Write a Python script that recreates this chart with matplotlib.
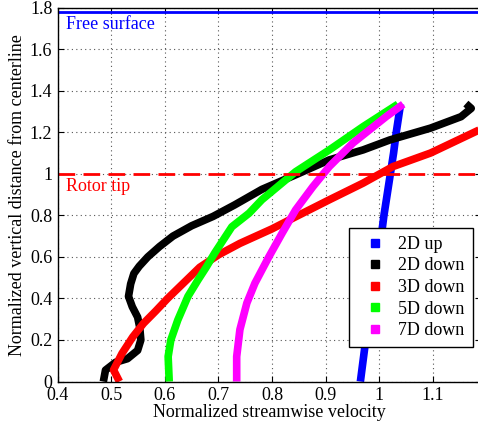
import numpy as np
import matplotlib
matplotlib.use("Agg")
import matplotlib.pyplot as plt
from matplotlib.lines import Line2D

plt.rcParams['font.family'] = ['Liberation Serif', 'DejaVu Serif']
plt.rcParams['font.size'] = 13

# profiles (velocity, height)
up2_u = [0.965, 0.970, 0.975, 0.982, 0.988, 0.993, 0.998, 1.004, 1.009, 1.015, 1.021, 1.027, 1.032, 1.040]
up2_y = [0.0, 0.1, 0.2, 0.3, 0.4, 0.5, 0.6, 0.7, 0.8, 0.9, 1.0, 1.1, 1.2, 1.335]

down2_u = [0.485, 0.489, 0.508, 0.530, 0.549, 0.555, 0.553, 0.549, 0.539, 0.532, 0.536, 0.542,
           0.552, 0.568, 0.590, 0.615, 0.650, 0.690, 0.730, 0.781, 0.844, 0.907, 0.970, 1.020,
           1.096, 1.153, 1.172, 1.162]
down2_y = [0.0, 0.055, 0.093, 0.110, 0.150, 0.200, 0.260, 0.310, 0.360, 0.410, 0.470, 0.520,
           0.555, 0.600, 0.650, 0.700, 0.750, 0.795, 0.850, 0.925, 0.995, 1.067, 1.115, 1.163,
           1.220, 1.275, 1.315, 1.338]

down3_u = [0.515, 0.504, 0.520, 0.540, 0.560, 0.583, 0.605, 0.633, 0.665, 0.700, 0.740, 0.800,
           0.844, 0.907, 0.970, 1.026, 1.096, 1.190]
down3_y = [0.0, 0.056, 0.136, 0.215, 0.280, 0.340, 0.400, 0.470, 0.550, 0.610, 0.665, 0.735,
           0.793, 0.875, 0.955, 1.035, 1.100, 1.215]

down5_u = [0.608, 0.606, 0.611, 0.624, 0.643, 0.662, 0.677, 0.693, 0.725, 0.757, 0.781, 0.844,
           0.907, 0.970, 1.035]
down5_y = [0.0, 0.120, 0.200, 0.296, 0.410, 0.490, 0.550, 0.619, 0.745, 0.810, 0.875, 1.010,
           1.115, 1.227, 1.335]

down7_u = [0.734, 0.734, 0.740, 0.753, 0.768, 0.794, 0.819, 0.844, 0.876, 0.907, 0.951, 1.013, 1.045]
down7_y = [0.0, 0.120, 0.250, 0.378, 0.473, 0.600, 0.715, 0.826, 0.937, 1.035, 1.148, 1.275, 1.335]

labels = ['2D up', '2D down', '3D down', '5D down', '7D down']
colors = ['#0000ff', '#000000', '#ff0000', '#00ff00', '#ff00ff']
free_surface = 1.78
rotor_tip = 1.0

fig = plt.figure(figsize=(4.78, 4.23), dpi=100)
ax = fig.add_axes([0.121, 0.098, 0.885, 0.884])

series = [(up2_u, up2_y), (down2_u, down2_y), (down3_u, down3_y),
          (down5_u, down5_y), (down7_u, down7_y)]
for (u, y), c in zip(series, colors):
    ax.plot(u, y, color=c, lw=5.5, solid_capstyle='butt', solid_joinstyle='round')

ax.axhline(free_surface, color='#0000ff', lw=2)
ax.axhline(rotor_tip, color='#ff0000', lw=2, dashes=(6, 3))
ax.text(0.415, free_surface - 0.02, 'Free surface', color='#0000ff', va='top', ha='left')
ax.text(0.415, rotor_tip - 0.02, 'Rotor tip', color='#ff0000', va='top', ha='left')

ax.set_xlim(0.4, 1.19)
ax.set_ylim(0, 1.8)
ax.set_xticks(np.arange(0.4, 1.15, 0.1))
ax.set_xticklabels(['0.4', '0.5', '0.6', '0.7', '0.8', '0.9', '1', '1.1'])
ax.set_yticks(np.arange(0, 1.81, 0.2))
ax.set_yticklabels(['0', '0.2', '0.4', '0.6', '0.8', '1', '1.2', '1.4', '1.6', '1.8'])
ax.tick_params(direction='in', top=True, right=True, length=4, pad=4)
ax.grid(True, linestyle=(0, (1, 3)), color='#555555', lw=0.8)
ax.set_xlabel('Normalized streamwise velocity', labelpad=0)
ax.set_ylabel('Normalized vertical distance from centerline', labelpad=3)
for s in ax.spines.values():
    s.set_linewidth(1)

handles = [Line2D([], [], ls='none', marker='s', ms=6, color=c) for c in colors]
leg = ax.legend(handles, labels, loc='lower right', bbox_to_anchor=(0.981, 0.092),
                borderaxespad=0, fancybox=False, framealpha=1, edgecolor='black',
                handlelength=2.0, handletextpad=0.3, borderpad=0.45, labelspacing=0.25)
leg.get_frame().set_linewidth(1)

fig.savefig('out.png', dpi=100)
